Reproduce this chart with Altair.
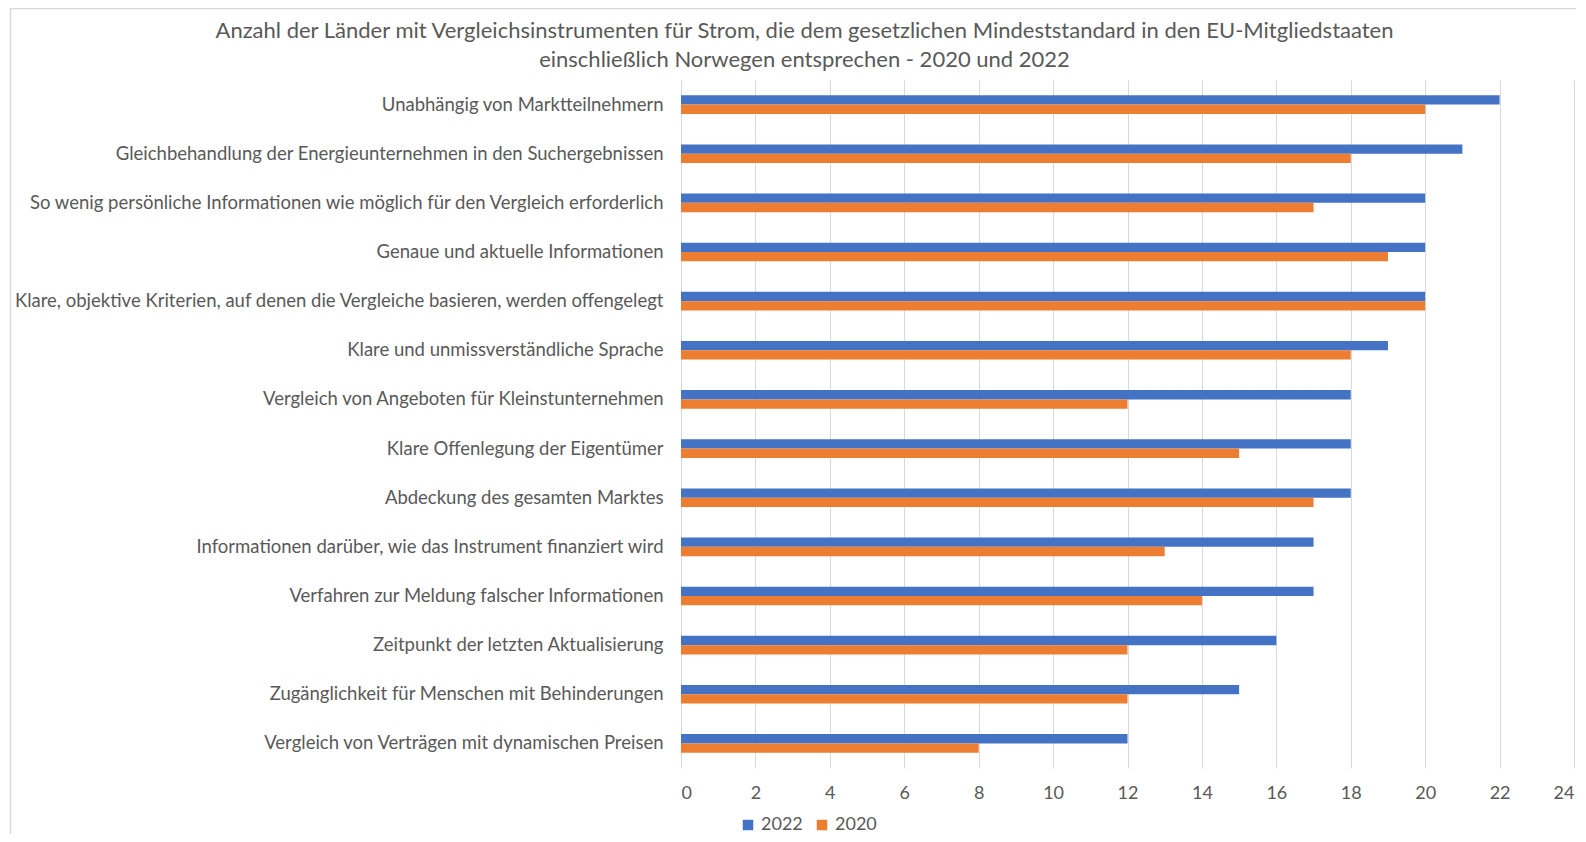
import altair as alt
import pandas as pd

categories = [
    "Unabhängig von Marktteilnehmern",
    "Gleichbehandlung der Energieunternehmen in den Suchergebnissen",
    "So wenig persönliche Informationen wie möglich für den Vergleich erforderlich",
    "Genaue und aktuelle Informationen",
    "Klare, objektive Kriterien, auf denen die Vergleiche basieren, werden offengelegt",
    "Klare und unmissverständliche Sprache",
    "Vergleich von Angeboten für Kleinstunternehmen",
    "Klare Offenlegung der Eigentümer",
    "Abdeckung des gesamten Marktes",
    "Informationen darüber, wie das Instrument finanziert wird",
    "Verfahren zur Meldung falscher Informationen",
    "Zeitpunkt der letzten Aktualisierung",
    "Zugänglichkeit für Menschen mit Behinderungen",
    "Vergleich von Verträgen mit dynamischen Preisen",
]
values_2022 = [22, 21, 20, 20, 20, 19, 18, 18, 18, 17, 17, 16, 15, 12]
values_2020 = [20, 18, 17, 19, 20, 18, 12, 15, 17, 13, 14, 12, 12, 8]
series = ["2022", "2020"]
colors = ["#4472C4", "#ED7D31"]
x_ticks = list(range(0, 25, 2))

rows = []
for c, a, b in zip(categories, values_2022, values_2020):
    rows.append({"Kategorie": c, "Jahr": "2022", "Wert": a})
    rows.append({"Kategorie": c, "Jahr": "2020", "Wert": b})
df = pd.DataFrame(rows)

FONT = "Lato"
GRAY = "#595959"

bars = (
    alt.Chart(df)
    .mark_bar()
    .encode(
        y=alt.Y(
            "Kategorie:N",
            sort=categories,
            scale=alt.Scale(paddingInner=0.62, paddingOuter=0.31),
            axis=alt.Axis(
                title=None,
                ticks=False,
                domain=False,
                labelPadding=18,
                labelFontSize=18.5,
                labelColor=GRAY,
                labelFont=FONT,
                labelLimit=700,
            ),
        ),
        yOffset=alt.YOffset("Jahr:N", sort=series),
        x=alt.X(
            "Wert:Q",
            scale=alt.Scale(domain=[0, 24], nice=False),
            axis=alt.Axis(
                title=None,
                values=x_ticks,
                ticks=False,
                domain=False,
                grid=True,
                gridColor="#D9D9D9",
                labelFontSize=18,
                labelColor=GRAY,
                labelFont=FONT,
                labelPadding=16,
            ),
        ),
        color=alt.Color(
            "Jahr:N",
            sort=series,
            scale=alt.Scale(domain=series, range=colors),
            legend=alt.Legend(
                title=None,
                orient="none",
                direction="horizontal",
                legendX=58,
                legendY=736,
                symbolType="square",
                symbolSize=110,
                symbolStrokeWidth=0,
                labelFontSize=18,
                labelColor=GRAY,
                labelFont=FONT,
                columnPadding=10,
                labelOffset=4,
            ),
        ),
    )
)

frame_data = alt.Data(values=[{"k": 1}])
top_border = alt.Chart(frame_data).mark_rule(color="#D9D9D9", strokeWidth=1.5).encode(
    x=alt.value(-671), x2=alt.value(905), y=alt.value(-71.5)
)
left_border = alt.Chart(frame_data).mark_rule(color="#D9D9D9", strokeWidth=1.5).encode(
    x=alt.value(-670.5), y=alt.value(-72), y2=alt.value(760)
)

chart = (
    alt.layer(top_border, left_border, bars)
    .properties(
        width=893,
        height=688,
        title=alt.TitleParams(
            text=[
                "Anzahl der Länder mit Vergleichsinstrumenten für Strom, die dem gesetzlichen Mindeststandard in den EU-Mitgliedstaaten",
                "einschließlich Norwegen entsprechen - 2020 und 2022",
            ],
            font=FONT,
            fontSize=22,
            fontWeight="normal",
            color=GRAY,
            lineHeight=29,
            anchor="middle",
            frame="group",
            dx=-323,
            dy=72,
            offset=7,
        ),
        autosize=alt.AutoSizeParams(type="none"),
        padding={"left": 673, "top": 72, "right": 2, "bottom": 66},
    )
    .configure_view(stroke=None)
)

chart.save("out.html", embed_options={"renderer": "svg", "actions": False})
